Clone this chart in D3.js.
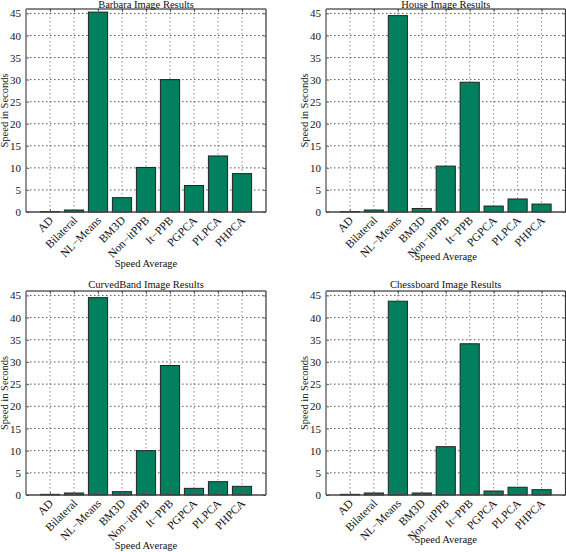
<!DOCTYPE html>
<html><head><meta charset="utf-8">
<script src="https://cdn.jsdelivr.net/npm/d3@7"></script>
<style>
body{margin:0;background:#fff;}
text{font-family:"Liberation Serif","Times New Roman",serif;fill:#111;}
</style></head>
<body><svg id="c" width="566" height="552"></svg>
<script>
const categories = ["AD","Bilateral","NL\u2212Means","BM3D","Non\u2212itPPB","It\u2212PPB","PGPCA","PLPCA","PHPCA"];
const yTicks = [0,5,10,15,20,25,30,35,40,45];
const titles = ["Barbara Image Results","House Image Results","CurvedBand Image Results","Chessboard Image Results"];
const barbara    = [0.1, 0.45, 45.3, 3.25, 10.1, 30.0, 6.0, 12.7, 8.7];
const house      = [0.1, 0.45, 44.5, 0.8, 10.4, 29.4, 1.35, 2.95, 1.8];
const curvedBand = [0.15, 0.45, 44.5, 0.75, 10.0, 29.2, 1.5, 3.0, 1.95];
const chessboard = [0.15, 0.45, 43.7, 0.45, 10.9, 34.1, 0.9, 1.75, 1.2];
const seriesList = [barbara, house, curvedBand, chessboard];

const panels = [
  {x0:26, x1:266, y0:9,   y1:212, titleY:8,   xlabY:267, ylabX:8},
  {x0:326,x1:565.5, y0:9, y1:212, titleY:8,   xlabY:260, ylabX:308},
  {x0:26, x1:266, y0:291, y1:495, titleY:288, xlabY:549, ylabX:8},
  {x0:326,x1:565.5, y0:291, y1:495, titleY:288, xlabY:543, ylabX:308}
];
const svg = d3.select("#c");
const fill = "#00805f";

panels.forEach((p, i) => {
  const data = seriesList[i];
  const x = d3.scaleLinear().domain([0, 10]).range([p.x0, p.x1]);
  const y = d3.scaleLinear().domain([0, 46]).range([p.y1, p.y0]);
  const g = svg.append("g");
  const bw = x(0.8) - x(0);

  // grid
  g.selectAll(".vg").data(categories).enter().append("line")
    .attr("x1", (d,k)=>x(k+1)).attr("x2",(d,k)=>x(k+1))
    .attr("y1", p.y0).attr("y2", p.y1)
    .attr("stroke","#888").attr("stroke-width",1).attr("stroke-dasharray","1.5,2.5");
  g.selectAll(".hg").data(yTicks.filter(t=>t>0)).enter().append("line")
    .attr("x1", p.x0).attr("x2", p.x1)
    .attr("y1", d=>y(d)).attr("y2", d=>y(d))
    .attr("stroke","#555").attr("stroke-width",1).attr("stroke-dasharray","1.5,2.5");

  // bars
  g.selectAll(".bar").data(data).enter().append("rect")
    .attr("x", (d,k)=>x(k+1)-bw/2).attr("width", bw)
    .attr("y", d=>y(d)).attr("height", d=>y(0)-y(d))
    .attr("fill", fill).attr("stroke","#222").attr("stroke-width",1);

  // axes (ticks inside)
  const ya = d3.axisLeft(y).tickValues(yTicks).tickSize(-3).tickPadding(5).tickFormat(d3.format("d"));
  const ga = g.append("g").attr("transform",`translate(${p.x0},0)`).call(ya);
  ga.select(".domain").remove();
  ga.selectAll("text").attr("font-size","11px").attr("fill","#111").attr("font-family","Liberation Serif");
  ga.selectAll("line").attr("stroke","#666");
  const yr = d3.axisRight(y).tickValues(yTicks).tickSize(-3).tickFormat("");
  const gr = g.append("g").attr("transform",`translate(${p.x1},0)`).call(yr);
  gr.select(".domain").remove(); gr.selectAll("line").attr("stroke","#666");
  const xb = d3.axisBottom(x).tickValues(d3.range(1,10)).tickSize(-3).tickFormat("");
  const gb = g.append("g").attr("transform",`translate(0,${p.y1})`).call(xb);
  gb.select(".domain").remove(); gb.selectAll("line").attr("stroke","#666");
  const xt = d3.axisTop(x).tickValues(d3.range(1,10)).tickSize(-3).tickFormat("");
  const gt = g.append("g").attr("transform",`translate(0,${p.y0})`).call(xt);
  gt.select(".domain").remove(); gt.selectAll("line").attr("stroke","#666");

  // frame
  g.append("line").attr("x1",p.x0).attr("x2",p.x1).attr("y1",p.y0).attr("y2",p.y0).attr("stroke","#111").attr("stroke-width",1.2);
  g.append("line").attr("x1",p.x1).attr("x2",p.x1).attr("y1",p.y0).attr("y2",p.y1).attr("stroke","#333").attr("stroke-width",1.2);
  g.append("line").attr("x1",p.x0).attr("x2",p.x0).attr("y1",p.y0).attr("y2",p.y1).attr("stroke","#777").attr("stroke-width",1.6);
  g.append("line").attr("x1",p.x0).attr("x2",p.x1).attr("y1",p.y1).attr("y2",p.y1).attr("stroke","#444").attr("stroke-width",1.6);

  // category labels
  g.selectAll(".xl").data(categories).enter().append("text")
    .attr("transform",(d,k)=>`translate(${x(k+1)+4},${p.y1+9}) rotate(-45)`)
    .attr("text-anchor","end").attr("font-size","11.5px").text(d=>d);

  // titles & labels
  g.append("text").attr("x",(p.x0+p.x1)/2).attr("y",p.titleY).attr("text-anchor","middle").attr("font-size","10.5px").text(titles[i]);
  g.append("text").attr("x",(p.x0+p.x1)/2).attr("y",p.xlabY).attr("text-anchor","middle").attr("font-size","10.5px").text("Speed Average");
  g.append("text").attr("transform",`translate(${p.ylabX},${(p.y0+p.y1)/2}) rotate(-90)`).attr("text-anchor","middle").attr("font-size","10.5px").text("Speed in Seconds");
});
</script></body></html>
